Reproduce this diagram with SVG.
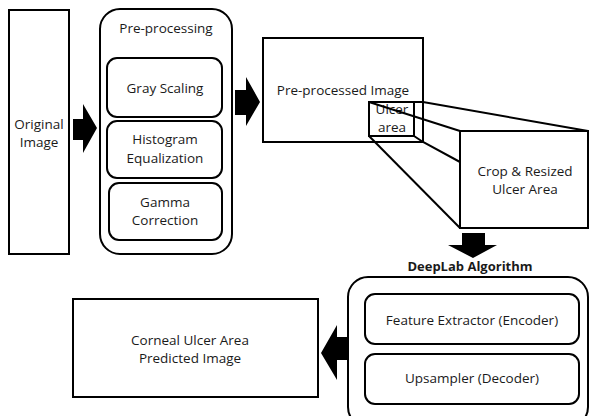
<svg xmlns="http://www.w3.org/2000/svg" width="589" height="416" viewBox="0 0 589 416">
<style>
.box{fill:#fff;stroke:#000;stroke-width:2}
.t{font-family:"Open Sans","Liberation Sans",sans-serif;font-size:13.5px;fill:#1a1a1a;text-anchor:middle}
.b{font-weight:bold;font-size:13px}
.ar{fill:#000;stroke:none}
.ln{stroke:#000;stroke-width:2;fill:none}
</style>
<rect width="589" height="416" fill="#fff"/>
<g id="original">
<rect class="box" x="9" y="10" width="60" height="244"/>
<text class="t" x="39" y="129">Original</text>
<text class="t" x="39" y="147">Image</text>
</g>
<g id="preprocessing">
<rect class="box" x="100" y="9" width="132" height="245" rx="20"/>
<text class="t" x="166" y="33">Pre-processing</text>
</g>
<g id="grayscaling">
<rect class="box" x="107" y="58" width="115" height="59" rx="10"/>
<text class="t" x="165" y="93">Gray Scaling</text>
</g>
<g id="histogram">
<rect class="box" x="107" y="121" width="115" height="57" rx="10"/>
<text class="t" x="165" y="144">Histogram</text>
<text class="t" x="165" y="163">Equalization</text>
</g>
<g id="gamma">
<rect class="box" x="109" y="183" width="113" height="57" rx="10"/>
<text class="t" x="165" y="207">Gamma</text>
<text class="t" x="165" y="225">Correction</text>
</g>
<g id="preprocessed">
<rect class="box" x="263" y="38" width="160" height="104"/>
<text class="t" x="343" y="95">Pre-processed Image</text>
</g>
<g id="ulcer">
<rect class="box" x="369" y="102" width="45" height="34"/>
<text class="t" x="392" y="114">Ulcer</text>
<text class="t" x="392" y="132">area</text>
</g>
<g id="crop">
<rect class="box" x="460" y="131" width="128" height="97"/>
<text class="t" x="525" y="176">Crop &amp; Resized</text>
<text class="t" x="525" y="194">Ulcer Area</text>
</g>
<g id="deeplab">
<rect class="box" x="348" y="277" width="240" height="150" rx="20"/>
<text class="t b" x="470" y="271">DeepLab Algorithm</text>
</g>
<g id="encoder">
<rect class="box" x="365" y="294" width="214" height="50" rx="10"/>
<text class="t" x="472" y="325">Feature Extractor (Encoder)</text>
</g>
<g id="decoder">
<rect class="box" x="365" y="354" width="214" height="50" rx="10"/>
<text class="t" x="472" y="383">Upsampler (Decoder)</text>
</g>
<g id="predicted">
<rect class="box" x="73" y="299" width="245" height="98"/>
<text class="t" x="190" y="345">Corneal Ulcer Area</text>
<text class="t" x="190" y="363">Predicted Image</text>
</g>
<g id="connectors">
<polygon class="ar" points="73,119 83,119 83,104 97,128 83,153 83,140 73,140"/>
<polygon class="ar" points="235,90 246,90 246,77 260,102 246,126 246,115 235,115"/>
<polygon class="ar" points="462,233 485,233 485,245 497,245 473,258 448,245 462,245"/>
<polygon class="ar" points="348,337 337,337 337,325 321,353 337,380 337,360 348,360"/>
<path class="ln" d="M414,102 H423 L588,131"/>
<path class="ln" d="M369,102 L460,131"/>
<path class="ln" d="M414,136 L423,142 L460,162"/>
<path class="ln" d="M369,136 L460,228"/>
</g>
</svg>
